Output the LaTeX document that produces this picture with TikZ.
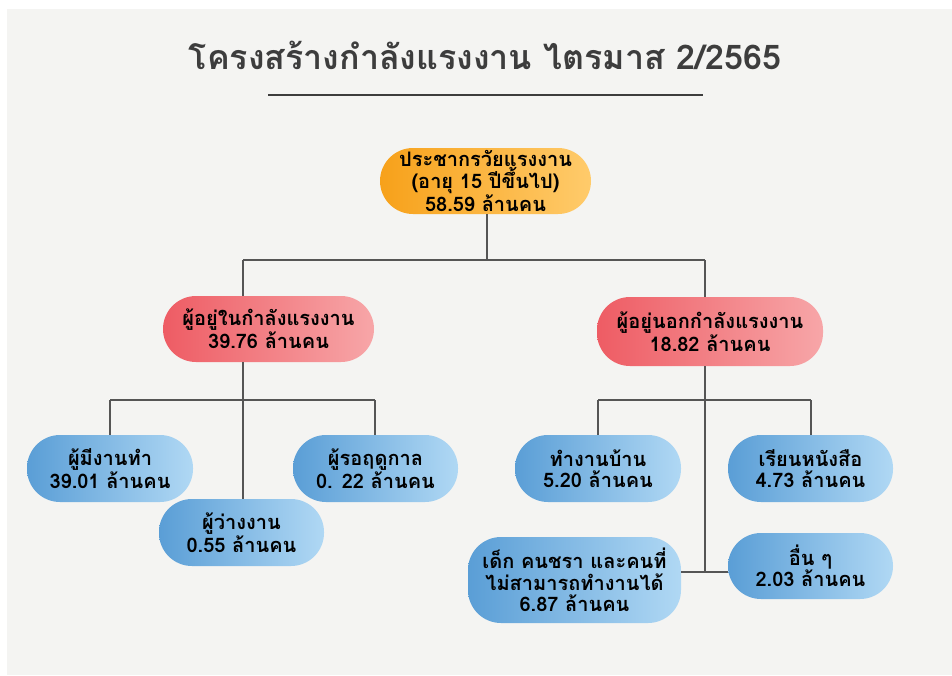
\documentclass[tikz,border=0pt]{standalone}
\usepackage{fontspec}
\newfontfamily\thai[Script=Thai]{Loma}
\definecolor{bgc}{HTML}{F4F4F2}
\definecolor{titlec}{HTML}{3D3D3D}
\definecolor{linec}{HTML}{555555}
\definecolor{orL}{HTML}{F7A11A}
\definecolor{orR}{HTML}{FFCB6B}
\definecolor{rdL}{HTML}{EE5C64}
\definecolor{rdR}{HTML}{F7A6A8}
\definecolor{blL}{HTML}{5A9ED6}
\definecolor{blR}{HTML}{B0D8F4}
\tikzset{
  pill/.style={rectangle, rounded corners=#1, inner sep=0pt, align=center,
    font=\thai\bfseries\fontsize{20}{21.5}\selectfont, text=black},
  orpill/.style={pill=33pt, left color=orL, right color=orR},
  rdpill/.style={pill=33pt, left color=rdL, right color=rdR},
  blpill/.style={pill=33pt, left color=blL, right color=blR},
  conn/.style={draw=linec, line width=1.2pt},
}
\begin{document}
\begin{tikzpicture}[x=1pt,y=-1pt]
\fill[white] (0,0) rectangle (952,675);
\fill[bgc] (7,9) rectangle (952,675);
\useasboundingbox (0,0) rectangle (952,675);
\node[font=\thai\bfseries\fontsize{34}{36}\selectfont, text=titlec] (title) at (485,55) {โครงสร้างกำลังแรงงาน ไตรมาส 2/2565};
\draw[draw=titlec, line width=1.3pt] (268,95) -- (703,95);
% nodes
\node[orpill, minimum width=211pt, minimum height=66pt] (top) at (485.5,181) {ประชากรวัยแรงงาน\\(อายุ 15 ปีขึ้นไป)\\58.59 ล้านคน};
\node[rdpill, minimum width=211pt, minimum height=66pt] (L) at (268.5,329) {ผู้อยู่ในกำลังแรงงาน\\39.76 ล้านคน};
\node[rdpill, minimum width=226pt, minimum height=69pt] (R) at (710,331.5) {ผู้อยู่นอกกำลังแรงงาน\\18.82 ล้านคน};
\node[blpill, minimum width=166pt, minimum height=67pt] (emp) at (110,468.5) {ผู้มีงานทำ\\39.01 ล้านคน};
\node[blpill, minimum width=165pt, minimum height=67pt] (wait) at (375.5,468.5) {ผู้รอฤดูกาล\\0. 22 ล้านคน};
\node[blpill, minimum width=165pt, minimum height=67pt] (unemp) at (241.5,532.5) {ผู้ว่างงาน\\0.55 ล้านคน};
\node[blpill, minimum width=166pt, minimum height=67pt] (house) at (598,468.5) {ทำงานบ้าน\\5.20 ล้านคน};
\node[blpill, minimum width=165pt, minimum height=67pt] (study) at (810.5,468.5) {เรียนหนังสือ\\4.73 ล้านคน};
\node[blpill, minimum width=213pt, minimum height=86pt] (old) at (574.5,580) {เด็ก คนชรา และคนที่\\ไม่สามารถทำงานได้\\6.87 ล้านคน};
\node[blpill, minimum width=165pt, minimum height=66pt] (other) at (810.5,566) {อื่น ๆ\\2.03 ล้านคน};
% connectors
\coordinate (j0) at (487,260);
\coordinate (jL) at (243,260);
\coordinate (jR) at (705,260);
\coordinate (kL) at (243,400);
\coordinate (kLa) at (110,400);
\coordinate (kLb) at (375,400);
\coordinate (kR) at (705,400);
\coordinate (kRa) at (598,400);
\coordinate (kRb) at (811,400);
\coordinate (kR2) at (705,572);
\draw[conn] (top.south -| j0) -- (j0);
\draw[conn] (jL) -- (jR);
\draw[conn] (jL) -- (jL |- L.north);
\draw[conn] (jR) -- (jR |- R.north);
\draw[conn] (kL |- L.south) -- (kL |- unemp.north);
\draw[conn] (kLa) -- (kLb);
\draw[conn] (kLa) -- (kLa |- emp.north);
\draw[conn] (kLb) -- (kLb |- wait.north);
\draw[conn] (kR |- R.south) -- (kR2);
\draw[conn] (kRa) -- (kRb);
\draw[conn] (kRa) -- (kRa |- house.north);
\draw[conn] (kRb) -- (kRb |- study.north);
\draw[conn] (old.east |- kR2) -- (other.west |- kR2);
\end{tikzpicture}
\end{document}
